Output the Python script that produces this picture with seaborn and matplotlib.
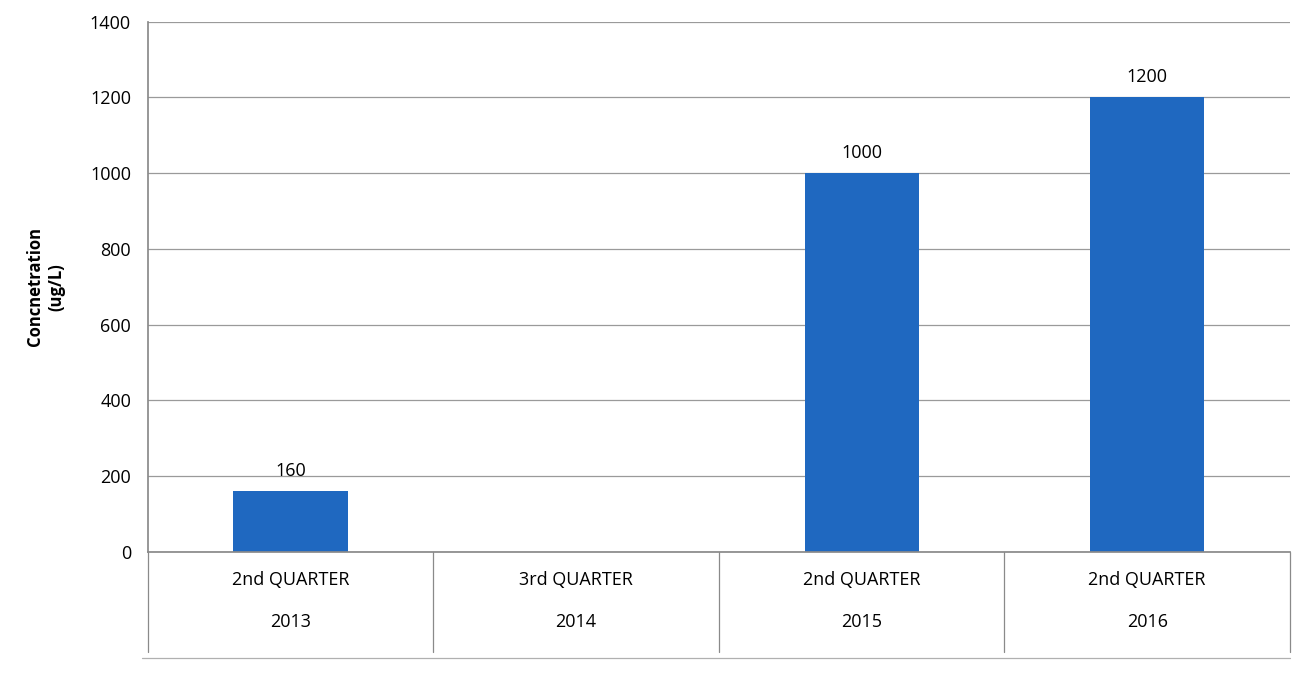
import matplotlib
matplotlib.use("Agg")
import matplotlib.pyplot as plt
import matplotlib.transforms as mtransforms
import numpy as np
import pandas as pd
import seaborn as sns

# Data
quarters = ["2nd QUARTER", "3rd QUARTER", "2nd QUARTER", "2nd QUARTER"]
years = ["2013", "2014", "2015", "2016"]
concentration = [160, np.nan, 1000, 1200]
value_labels = ["160", "", "1000", "1200"]

categories = [f"{q}\n\n{y}" for q, y in zip(quarters, years)]
df = pd.DataFrame({"period": categories, "conc": concentration})

sns.set_theme(style="white")
plt.rcParams["font.family"] = ["Open Sans", "DejaVu Sans"]
plt.rcParams["text.color"] = "black"
plt.rcParams["xtick.color"] = "black"
plt.rcParams["ytick.color"] = "black"

fig = plt.figure(figsize=(13.07, 6.77), dpi=100)
ax = fig.add_axes([0.113, 0.185, 0.874, 0.783])

sns.barplot(data=df, x="period", y="conc", color="#1f68c0", width=0.4,
            saturation=1, edgecolor="none", ax=ax)

ax.set_ylim(0, 1400)
ax.set_xlim(-0.5, 3.5)
ax.set_yticks(range(0, 1401, 200))
ax.tick_params(axis="y", labelsize=13, labelcolor="black", length=0, pad=12)
ax.tick_params(axis="x", labelsize=13, labelcolor="black", length=0, pad=14)
ax.yaxis.grid(True, color="#9a9a9a", linewidth=0.9)
ax.set_axisbelow(True)
for side in ["top", "right"]:
    ax.spines[side].set_visible(False)
ax.spines["left"].set_color("#8a8a8a")
ax.spines["bottom"].set_color("#8a8a8a")

ax.set_xlabel("")
ax.set_ylabel("Concnetration\n(ug/L)", fontsize=12, fontweight="bold",
              color="black", labelpad=18)

# value labels
for i, (v, lab) in enumerate(zip(concentration, value_labels)):
    if lab:
        ax.text(i, v + 30, lab, ha="center", va="bottom", fontsize=13)

# category table lines below the axis
trans = mtransforms.blended_transform_factory(ax.transData, ax.transAxes)
for b in np.arange(-0.5, 4.0, 1.0):
    ax.plot([b, b], [0, -0.19], transform=trans, color="#8a8a8a",
            linewidth=0.9, clip_on=False)
ax.plot([-0.52, 3.5], [-0.2, -0.2], transform=trans, color="#b0b0b0",
        linewidth=0.9, clip_on=False)

fig.savefig("out.png", dpi=100)
